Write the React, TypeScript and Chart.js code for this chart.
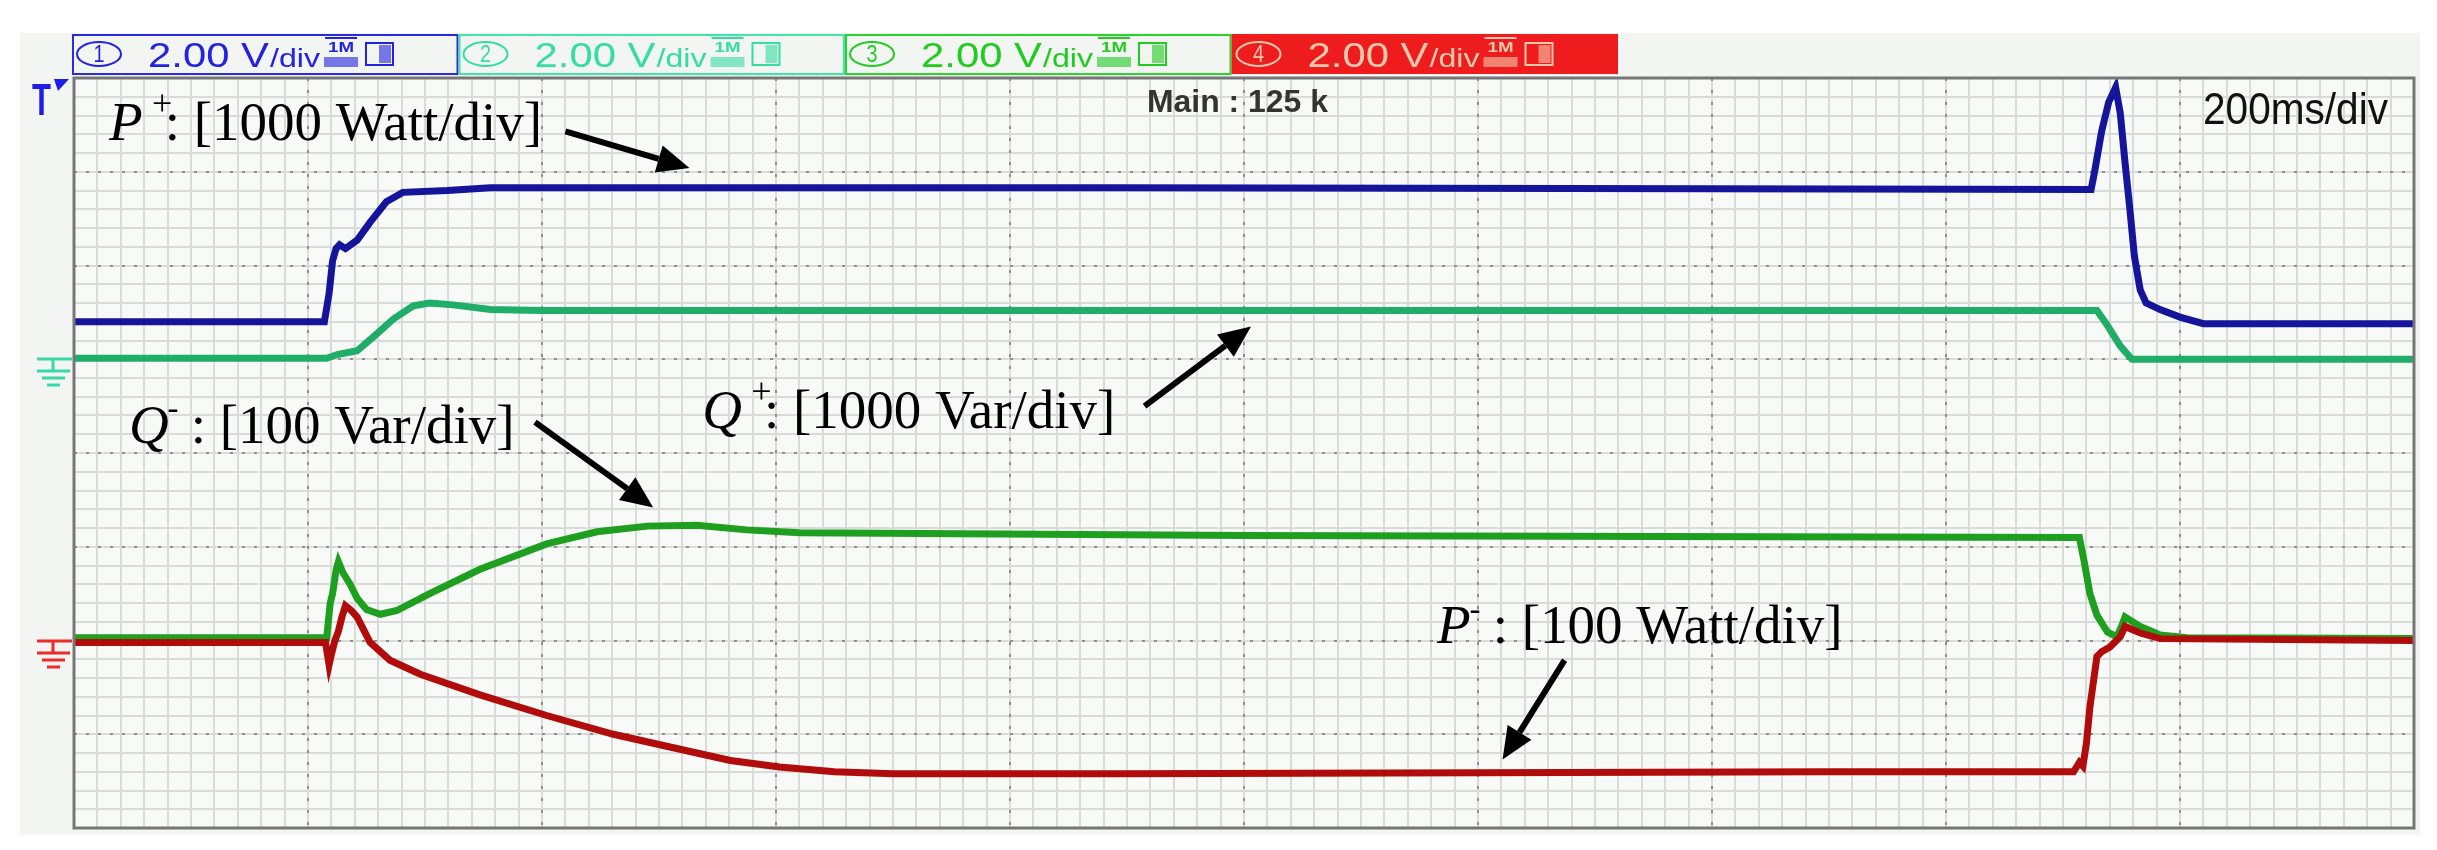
import React, { useEffect, useRef } from "react";
import { Chart, registerables } from "chart.js";

Chart.register(...registerables);

// ---- Data (time in ms, value in screen divisions from the bottom) ----
const pPlusTime = [0, 214, 218, 221, 224, 227, 232, 242, 253, 267, 281, 319, 356, 900, 1400, 1724, 1727, 1733, 1739, 1745, 1749, 1753, 1757, 1761, 1766, 1771, 1783, 1800, 1820, 2000];
const pPlusValue = [5.4, 5.4, 5.7, 6.05, 6.18, 6.22, 6.18, 6.27, 6.46, 6.68, 6.78, 6.8, 6.83, 6.83, 6.82, 6.81, 7.0, 7.43, 7.74, 7.9, 7.62, 7.1, 6.62, 6.1, 5.74, 5.6, 5.53, 5.45, 5.38, 5.38];

const qPlusTime = [0, 216, 225, 242, 256, 273, 290, 304, 324, 356, 400, 1000, 1729, 1737, 1749, 1759, 2000];
const qPlusValue = [5.01, 5.01, 5.05, 5.09, 5.24, 5.43, 5.57, 5.6, 5.58, 5.53, 5.52, 5.52, 5.52, 5.38, 5.14, 5.0, 5.0];

const qMinusTime = [0, 216, 219, 221, 224, 226, 230, 236, 242, 250, 262, 276, 304, 347, 404, 447, 490, 532, 575, 620, 1000, 1714, 1718, 1723, 1729, 1738, 1746, 1750, 1753, 1766, 1783, 1806, 2000];
const qMinusValue = [2.03, 2.03, 2.4, 2.5, 2.75, 2.84, 2.72, 2.6, 2.45, 2.33, 2.28, 2.32, 2.5, 2.76, 3.03, 3.16, 3.22, 3.23, 3.18, 3.15, 3.12, 3.1, 2.85, 2.5, 2.27, 2.09, 2.04, 2.15, 2.25, 2.15, 2.06, 2.03, 2.02];

const pMinusTime = [0, 215, 218, 220, 223, 226, 229, 232, 237, 242, 253, 270, 296, 347, 404, 461, 518, 561, 603, 650, 700, 900, 1200, 1500, 1709, 1714, 1717, 1720, 1723, 1729, 1733, 1740, 1749, 1753, 1766, 1783, 2000];
const pMinusValue = [1.98, 1.98, 1.74, 1.85, 2.0, 2.1, 2.25, 2.37, 2.32, 2.25, 1.98, 1.79, 1.64, 1.42, 1.2, 1.0, 0.84, 0.72, 0.65, 0.6, 0.58, 0.58, 0.59, 0.6, 0.6, 0.7, 0.66, 0.9, 1.29, 1.83, 1.88, 1.93, 2.04, 2.15, 2.08, 2.02, 2.0];

// Axis structure: 10 horizontal divisions of 200 ms, 8 vertical divisions
const timeDivisions = [0, 200, 400, 600, 800, 1000, 1200, 1400, 1600, 1800, 2000];
const valueDivisions = [0, 1, 2, 3, 4, 5, 6, 7, 8];

// Texts
const channelNumbers = ["1", "2", "3", "4"];
const channelScales = ["2.00", "2.00", "2.00", "2.00"];
const timebaseText = "200ms/div";
const memoryText = "Main : 125 k";
const channelGrounds = [5.0, 2.0];

const W = 2437;
const H = 850;

function fitText(ctx: CanvasRenderingContext2D, text: string, x: number, y: number, width: number) {
  const m = ctx.measureText(text).width || 1;
  ctx.save();
  ctx.translate(x, y);
  ctx.scale(width / m, 1);
  ctx.fillText(text, 0, 0);
  ctx.restore();
}

function drawArrow(ctx: CanvasRenderingContext2D, x1: number, y1: number, x2: number, y2: number) {
  const ang = Math.atan2(y2 - y1, x2 - x1);
  const len = 32;
  const half = 14;
  const bx = x2 - Math.cos(ang) * len;
  const by = y2 - Math.sin(ang) * len;
  ctx.save();
  ctx.strokeStyle = "#000";
  ctx.fillStyle = "#000";
  ctx.lineWidth = 6;
  ctx.beginPath();
  ctx.moveTo(x1, y1);
  ctx.lineTo(bx, by);
  ctx.stroke();
  ctx.beginPath();
  ctx.moveTo(x2, y2);
  ctx.lineTo(bx + Math.sin(ang) * half, by - Math.cos(ang) * half);
  ctx.lineTo(bx - Math.sin(ang) * half, by + Math.cos(ang) * half);
  ctx.closePath();
  ctx.fill();
  ctx.restore();
}

function drawLabel(ctx: CanvasRenderingContext2D, x: number, y: number, letter: string, sup: string, rest: string) {
  const size = 55;
  ctx.save();
  ctx.fillStyle = "#000";
  ctx.textAlign = "left";
  ctx.textBaseline = "alphabetic";
  ctx.font = `italic ${size}px 'Liberation Serif', 'Times New Roman', serif`;
  ctx.fillText(letter, x, y);
  const wL = ctx.measureText(letter).width;
  if (sup === "+") {
    ctx.font = `${Math.round(size * 0.65)}px 'Liberation Serif', serif`;
    ctx.fillText("+", x + wL + 0.17 * size, y - 0.45 * size);
  } else {
    ctx.font = `${Math.round(size * 0.6)}px 'Liberation Serif', serif`;
    ctx.fillText("-", x + wL - 0.02 * size, y - 0.43 * size);
  }
  ctx.font = `${size}px 'Liberation Serif', 'Times New Roman', serif`;
  ctx.fillText(rest, x + wL + 0.4 * size, y);
  ctx.restore();
}

const scopePlugin = {
  id: "scopeScreen",
  beforeDraw(chart: any) {
    const ctx: CanvasRenderingContext2D = chart.ctx;
    const { left, right, top, bottom } = chart.chartArea;
    const xs = chart.scales.x;
    const ys = chart.scales.y;
    ctx.save();
    ctx.fillStyle = "#ffffff";
    ctx.fillRect(0, 0, W, H);
    ctx.fillStyle = "#f2f5f2";
    ctx.fillRect(20, 33, 2400, 802);
    ctx.fillStyle = "#f7faf7";
    ctx.fillRect(left, top, right - left, bottom - top);

    // minor grid
    ctx.strokeStyle = "#d8dcd8";
    ctx.lineWidth = 2;
    const tMin = timeDivisions[0];
    const tMax = timeDivisions[timeDivisions.length - 1];
    const vMax = valueDivisions[valueDivisions.length - 1];
    const nx = (timeDivisions.length - 1) * 10;
    const ny = (valueDivisions.length - 1) * 5;
    for (let i = 0; i <= nx; i++) {
      const px = Math.round(xs.getPixelForValue(tMin + ((tMax - tMin) * i) / nx));
      ctx.beginPath();
      ctx.moveTo(px, top);
      ctx.lineTo(px, bottom);
      ctx.stroke();
    }
    for (let j = 0; j <= ny; j++) {
      const py = Math.round(ys.getPixelForValue((vMax * j) / ny));
      ctx.beginPath();
      ctx.moveTo(left, py);
      ctx.lineTo(right, py);
      ctx.stroke();
    }
    // major dotted grid
    ctx.strokeStyle = "#8e8e8e";
    ctx.lineWidth = 2;
    ctx.setLineDash([3, 9]);
    for (const t of timeDivisions) {
      const px = Math.round(xs.getPixelForValue(t));
      ctx.beginPath();
      ctx.moveTo(px, top);
      ctx.lineTo(px, bottom);
      ctx.stroke();
    }
    for (const v of valueDivisions) {
      const py = Math.round(ys.getPixelForValue(v));
      ctx.beginPath();
      ctx.moveTo(left, py);
      ctx.lineTo(right, py);
      ctx.stroke();
    }
    ctx.setLineDash([]);
    ctx.restore();
  },
  afterDatasetsDraw(chart: any) {
    const ctx: CanvasRenderingContext2D = chart.ctx;
    const { left, right, top, bottom } = chart.chartArea;
    const xs = chart.scales.x;
    const ys = chart.scales.y;
    const X = (t: number) => xs.getPixelForValue(t);
    const Y = (v: number) => ys.getPixelForValue(v);
    ctx.save();

    // border
    ctx.strokeStyle = "#767676";
    ctx.lineWidth = 3;
    ctx.strokeRect(left, top, right - left, bottom - top);

    // header boxes
    const boxColors = ["#2a2ae2", "#3fe6a6", "#2ad42a", "#ee1c1c"];
    const textColors = ["#2222e0", "#33dea0", "#1fcc1f", "#f4c8ae"];
    const boxW = 386.5;
    for (let i = 0; i < channelNumbers.length; i++) {
      const x0 = left - 2 + i * boxW;
      const y0 = 34;
      const h = 40;
      if (i === 3) {
        ctx.fillStyle = boxColors[i];
        ctx.fillRect(x0, y0, boxW, h);
      } else {
        ctx.strokeStyle = boxColors[i];
        ctx.lineWidth = 2;
        ctx.strokeRect(x0 + 1, y0 + 1, boxW - 2, h - 1);
      }
      const c = textColors[i];
      ctx.strokeStyle = c;
      ctx.fillStyle = c;
      ctx.lineWidth = 2;
      ctx.beginPath();
      ctx.ellipse(x0 + 27, y0 + 20, 22, 12, 0, 0, Math.PI * 2);
      ctx.stroke();
      ctx.font = "24px 'Liberation Sans', sans-serif";
      ctx.textAlign = "center";
      ctx.textBaseline = "middle";
      fitText(ctx, channelNumbers[i], x0 + 27, y0 + 21, 11);
      ctx.textAlign = "left";
      ctx.textBaseline = "alphabetic";
      ctx.font = "35px 'Liberation Sans', sans-serif";
      fitText(ctx, channelScales[i] + " V", x0 + 76, y0 + 33, 121);
      ctx.font = "25px 'Liberation Sans', sans-serif";
      fitText(ctx, "/div", x0 + 198, y0 + 33, 50);
      // 1M icon
      ctx.fillRect(x0 + 253, y0 + 3, 32, 2);
      ctx.font = "bold 14px 'Liberation Sans', sans-serif";
      fitText(ctx, "1M", x0 + 256, y0 + 18, 26);
      ctx.globalAlpha = 0.6;
      ctx.fillRect(x0 + 252, y0 + 23, 34, 10);
      ctx.globalAlpha = 1;
      // box icon
      ctx.lineWidth = 2;
      ctx.strokeRect(x0 + 294, y0 + 9, 27, 22);
      ctx.globalAlpha = 0.6;
      ctx.fillRect(x0 + 307, y0 + 11, 12, 18);
      ctx.globalAlpha = 1;
    }

    // Main : 125 k
    ctx.fillStyle = "#333333";
    ctx.font = "bold 31px 'Liberation Sans', sans-serif";
    fitText(ctx, memoryText, 1147, 112, 181);
    // timebase
    ctx.fillStyle = "#111";
    ctx.font = "45px 'Liberation Sans', sans-serif";
    fitText(ctx, timebaseText, 2203, 124, 185);

    // Trigger marker
    ctx.fillStyle = "#1e1ee6";
    ctx.font = "bold 44px 'Liberation Sans', sans-serif";
    fitText(ctx, "T", 32, 115, 19);
    ctx.beginPath();
    ctx.moveTo(54, 79);
    ctx.lineTo(69, 79);
    ctx.lineTo(58, 91);
    ctx.closePath();
    ctx.fill();

    // ground markers
    const gColors = ["#3ad8a8", "#ec2a2a"];
    channelGrounds.forEach((g, k) => {
      const y0 = Math.round(Y(g));
      ctx.strokeStyle = gColors[k];
      ctx.lineWidth = 3;
      ctx.beginPath();
      ctx.moveTo(37, y0); ctx.lineTo(left - 2, y0);
      ctx.moveTo(53, y0); ctx.lineTo(53, y0 + 12);
      ctx.moveTo(37, y0 + 12); ctx.lineTo(70, y0 + 12);
      ctx.moveTo(42, y0 + 19); ctx.lineTo(65, y0 + 19);
      ctx.moveTo(47, y0 + 26); ctx.lineTo(60, y0 + 26);
      ctx.stroke();
    });

    // annotations
    drawLabel(ctx, X(30), Y(7.34), "P", "+", ": [1000 Watt/div]");
    drawArrow(ctx, X(420), Y(7.43), X(526), Y(7.04));
    drawLabel(ctx, X(537), Y(4.27), "Q", "+", ": [1000 Var/div]");
    drawArrow(ctx, X(915), Y(4.5), X(1006), Y(5.35));
    drawLabel(ctx, X(47), Y(4.11), "Q", "-", ": [100 Var/div]");
    drawArrow(ctx, X(394), Y(4.33), X(495), Y(3.42));
    drawLabel(ctx, X(1165), Y(1.97), "P", "-", ": [100 Watt/div]");
    drawArrow(ctx, X(1274), Y(1.79), X(1221), Y(0.73));

    ctx.restore();
  },
};

function toPoints(t: number[], v: number[]) {
  return t.map((x, i) => ({ x, y: v[i] }));
}

export default function App() {
  const ref = useRef<HTMLCanvasElement | null>(null);
  useEffect(() => {
    if (!ref.current) return;
    const chart = new Chart(ref.current, {
      type: "line",
      data: {
        datasets: [
          { label: "P+", data: toPoints(pPlusTime, pPlusValue), borderColor: "#15159c", borderWidth: 7, pointRadius: 0, tension: 0, order: 1 },
          { label: "Q+", data: toPoints(qPlusTime, qPlusValue), borderColor: "#20ad68", borderWidth: 7, pointRadius: 0, tension: 0, order: 3 },
          { label: "P-", data: toPoints(pMinusTime, pMinusValue), borderColor: "#b00c0c", borderWidth: 7, pointRadius: 0, tension: 0, order: 2 },
          { label: "Q-", data: toPoints(qMinusTime, qMinusValue), borderColor: "#1f9f1f", borderWidth: 7, pointRadius: 0, tension: 0, order: 4 },
        ],
      },
      options: {
        animation: false,
        responsive: false,
        events: [],
        layout: { padding: { left: 74, right: 23, top: 78, bottom: 22 } },
        scales: {
          x: { type: "linear", min: timeDivisions[0], max: timeDivisions[timeDivisions.length - 1], display: false },
          y: { type: "linear", min: valueDivisions[0], max: valueDivisions[valueDivisions.length - 1], display: false },
        },
        plugins: { legend: { display: false }, tooltip: { enabled: false } },
      },
      plugins: [scopePlugin],
    } as any);
    return () => chart.destroy();
  }, []);
  return (
    <div style={{ position: "fixed", left: 0, top: 0, width: W, height: H, background: "#fff" }}>
      <canvas ref={ref} width={W} height={H} style={{ display: "block", width: W, height: H }} />
    </div>
  );
}
